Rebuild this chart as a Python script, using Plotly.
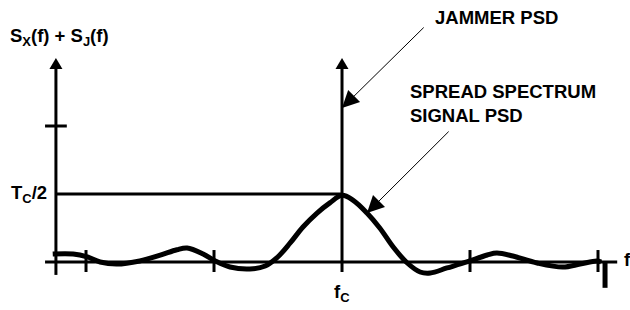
import plotly.graph_objects as go

# Frequency in units of 1/Tc relative to f_C ; PSD in units of Tc/2
freq = [-4.52, -4.20, -3.98, -3.78, -3.52, -3.16, -2.84, -2.58, -2.42, -2.17, -1.98,
        -1.75, -1.44, -1.20, -1.02, -0.81, -0.61, -0.39, -0.19, 0.0, 0.17, 0.39,
        0.59, 0.80, 1.02, 1.22, 1.38, 1.64, 1.95, 2.27, 2.42, 2.67, 3.05, 3.45,
        3.72, 3.98, 4.05]
psd = [0.118, 0.118, 0.074, 0.0, -0.03, 0.015, 0.10, 0.18, 0.206, 0.118, 0.015,
       -0.074, -0.103, -0.059, 0.059, 0.28, 0.515, 0.72, 0.87, 0.98, 0.91, 0.72,
       0.50, 0.22, -0.015, -0.147, -0.162, -0.088, 0.0, 0.103, 0.132, 0.088, -0.015,
       -0.074, -0.03, 0.015, 0.0]
tail_freq = [4.11, 4.11]
tail_psd = [-0.015, -0.38]

x_ticks = [-4, -2, 2, 4]
y_tick = 2.0
half_level = 1.0
y_axis_pos = -4.47

FONT = "Liberation Sans, Arial, sans-serif"
fig = go.Figure()

fig.add_trace(go.Scatter(x=freq, y=psd, mode="lines",
                         line=dict(color="black", width=5, shape="spline"),
                         hoverinfo="skip", showlegend=False))
fig.add_trace(go.Scatter(x=tail_freq, y=tail_psd, mode="lines",
                         line=dict(color="black", width=5),
                         hoverinfo="skip", showlegend=False))

shapes = []
lw = 3
# x axis
shapes.append(dict(type="line", x0=-4.64, x1=4.30, y0=0, y1=0,
                   line=dict(color="black", width=lw)))
# y axis
shapes.append(dict(type="line", x0=y_axis_pos, x1=y_axis_pos, y0=-0.19, y1=2.9,
                   line=dict(color="black", width=lw)))
# jammer line
shapes.append(dict(type="line", x0=0, x1=0, y0=-0.147, y1=2.9,
                   line=dict(color="black", width=lw)))
# Tc/2 level
shapes.append(dict(type="line", x0=y_axis_pos, x1=0, y0=half_level, y1=half_level,
                   line=dict(color="black", width=lw)))
# y tick
shapes.append(dict(type="line", x0=-4.64, x1=-4.30, y0=y_tick, y1=y_tick,
                   line=dict(color="black", width=lw)))
# x ticks
for t in x_ticks:
    shapes.append(dict(type="line", x0=t, x1=t, y0=-0.147, y1=0.176,
                       line=dict(color="black", width=lw)))
# arrowheads
for xa in [y_axis_pos, 0]:
    shapes.append(dict(type="path", xsizemode="pixel", ysizemode="pixel",
                       xanchor=xa, yanchor=3.0,
                       path="M -6.5 -11 L 6.5 -11 L 0 0 Z",
                       fillcolor="black", line=dict(width=0)))
fig.update_layout(shapes=shapes)

ann = []
tf = dict(family=FONT, size=18.5, color="black")
ann.append(dict(x=-5.22, y=3.31, xref="x", yref="y", text="<b>S<sub>X</sub>(f) + S<sub>J</sub>(f)</b>",
                showarrow=False, xanchor="left", yanchor="middle", font=tf))
ann.append(dict(x=-4.58, y=1.0, xref="x", yref="y", text="<b>T<sub>C</sub>/2</b>",
                showarrow=False, xanchor="right", yanchor="middle", font=tf))
ann.append(dict(x=0, y=-0.456, xref="x", yref="y", text="<b>f<sub>C</sub></b>",
                showarrow=False, xanchor="center", yanchor="middle", font=tf))
ann.append(dict(x=4.375, y=0.03, xref="x", yref="y", text="<b>f</b>",
                showarrow=False, xanchor="left", yanchor="middle", font=tf))
ann.append(dict(x=1.42, y=3.59, xref="x", yref="y", text="<b>JAMMER PSD</b>",
                showarrow=False, xanchor="left", yanchor="middle", font=tf))
ann.append(dict(x=1.03, y=2.33, xref="x", yref="y", text="<b>SPREAD SPECTRUM<br>SIGNAL PSD</b>",
                showarrow=False, xanchor="left", yanchor="middle", align="left", font=tf))
# pointer arrows
ann.append(dict(x=0.0, y=2.265, ax=1.30, ay=3.47, xref="x", yref="y", axref="x", ayref="y",
                text="", showarrow=True, arrowhead=2, arrowsize=3.4, arrowwidth=1,
                arrowcolor="black", standoff=0))
ann.append(dict(x=0.39, y=0.72, ax=1.69, ay=1.94, xref="x", yref="y", axref="x", ayref="y",
                text="", showarrow=True, arrowhead=2, arrowsize=3.4, arrowwidth=1,
                arrowcolor="black", standoff=0))
fig.update_layout(annotations=ann)

fig.update_layout(
    width=630, height=310,
    margin=dict(l=0, r=0, t=0, b=0),
    paper_bgcolor="white", plot_bgcolor="white",
    xaxis=dict(range=[-5.344, 4.5], visible=False, fixedrange=True),
    yaxis=dict(range=[-0.706, 3.853], visible=False, fixedrange=True),
    showlegend=False,
)

fig.write_html("out.html", config={"displayModeBar": False},
               post_script="document.body.style.margin='0';document.body.style.overflow='hidden';")
